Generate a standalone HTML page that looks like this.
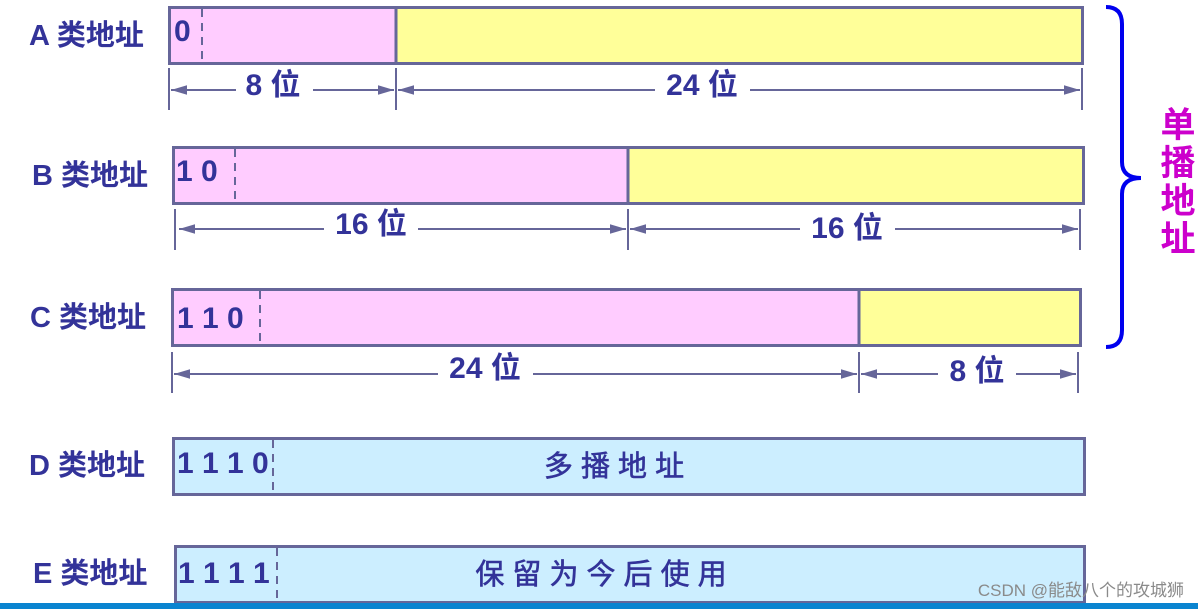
<!DOCTYPE html>
<html><head><meta charset="utf-8"><style>html,body{margin:0;padding:0;background:#fff}svg{display:block}</style></head>
<body>
<svg width="1198" height="609" viewBox="0 0 1198 609" xmlns="http://www.w3.org/2000/svg" font-family="Liberation Sans, Noto Sans CJK SC, sans-serif" font-weight="bold">
<defs>
<marker id="ar" viewBox="0 0 10 10" refX="10" refY="5" markerWidth="10" markerHeight="8" orient="auto-start-reverse"><path d="M0,2 L10,5 L0,8 z" fill="#666699"/></marker>
</defs>
<g fill="#333399" font-size="29">
<text x="29" y="45">A 类地址</text>
<text x="32" y="185">B 类地址</text>
<text x="30" y="327">C 类地址</text>
<text x="29" y="475">D 类地址</text>
<text x="33" y="583">E 类地址</text>
</g>
<g stroke="#666699" stroke-width="3">
<rect x="169.5" y="7.5" width="913" height="56" fill="#ffff99"/>
<rect x="171" y="9" width="225" height="53" fill="#ffccff" stroke="none"/>
<line x1="396" y1="7" x2="396" y2="63"/>
<rect x="173.5" y="147.5" width="910" height="56" fill="#ffff99"/>
<rect x="175" y="149" width="453" height="53" fill="#ffccff" stroke="none"/>
<line x1="628" y1="147" x2="628" y2="204"/>
<rect x="172.5" y="289.5" width="908" height="56" fill="#ffff99"/>
<rect x="174" y="291" width="685" height="53" fill="#ffccff" stroke="none"/>
<line x1="859" y1="289" x2="859" y2="346"/>
<rect x="173.5" y="438.5" width="911" height="56" fill="#cceeff"/>
<rect x="175.5" y="546.5" width="909" height="56" fill="#cceeff"/>
</g>
<g stroke="#666699" stroke-width="2" stroke-dasharray="8,6">
<line x1="202" y1="9" x2="202" y2="62"/>
<line x1="235" y1="149" x2="235" y2="202"/>
<line x1="260" y1="291" x2="260" y2="344"/>
<line x1="273" y1="440" x2="273" y2="493"/>
<line x1="277" y1="548" x2="277" y2="601"/>
</g>
<g stroke="#666699" stroke-width="2" fill="none">
<line x1="169" y1="68" x2="169" y2="110"/><line x1="396" y1="68" x2="396" y2="110"/><line x1="1082" y1="68" x2="1082" y2="110"/>
<line x1="171" y1="90" x2="236" y2="90" marker-start="url(#ar)"/><line x1="313" y1="90" x2="394" y2="90" marker-end="url(#ar)"/>
<line x1="398" y1="90" x2="655" y2="90" marker-start="url(#ar)"/><line x1="750" y1="90" x2="1080" y2="90" marker-end="url(#ar)"/>
<line x1="175" y1="209" x2="175" y2="250"/><line x1="628" y1="209" x2="628" y2="250"/><line x1="1080" y1="209" x2="1080" y2="250"/>
<line x1="179" y1="229" x2="324" y2="229" marker-start="url(#ar)"/><line x1="418" y1="229" x2="626" y2="229" marker-end="url(#ar)"/>
<line x1="630" y1="229" x2="800" y2="229" marker-start="url(#ar)"/><line x1="895" y1="229" x2="1078" y2="229" marker-end="url(#ar)"/>
<line x1="172" y1="352" x2="172" y2="393"/><line x1="859" y1="352" x2="859" y2="393"/><line x1="1078" y1="352" x2="1078" y2="393"/>
<line x1="174" y1="374" x2="438" y2="374" marker-start="url(#ar)"/><line x1="533" y1="374" x2="857" y2="374" marker-end="url(#ar)"/>
<line x1="861" y1="374" x2="938" y2="374" marker-start="url(#ar)"/><line x1="1016" y1="374" x2="1076" y2="374" marker-end="url(#ar)"/>
</g>
<g fill="#333399" font-size="30">
<text x="273" y="95" text-anchor="middle">8 位</text>
<text x="702" y="95" text-anchor="middle">24 位</text>
<text x="371" y="234" text-anchor="middle">16 位</text>
<text x="847" y="238" text-anchor="middle">16 位</text>
<text x="485" y="378" text-anchor="middle">24 位</text>
<text x="977" y="381" text-anchor="middle">8 位</text>
<text x="174" y="41">0</text>
<text x="176" y="181">1 0</text>
<text x="177" y="328">1 1 0</text>
<text x="177" y="473">1 1 1 0</text>
<text x="178" y="583">1 1 1 1</text>
<text x="614" y="476" text-anchor="middle" font-size="29" font-weight="normal" stroke="#333399" stroke-width="0.6">多 播 地 址</text>
<text x="601" y="584" text-anchor="middle" font-size="29" font-weight="normal" stroke="#333399" stroke-width="0.6">保 留 为 今 后 使 用</text>
</g>
<path d="M1106,7 Q1122,7 1122,24 L1122,162 Q1122,178 1141,178 Q1122,178 1122,194 L1122,330 Q1122,347 1106,347" fill="none" stroke="#0000ee" stroke-width="4"/>
<g fill="#cc00cc" font-size="35" text-anchor="middle">
<text x="1178" y="137">单</text><text x="1178" y="175">播</text><text x="1178" y="213">地</text><text x="1178" y="251">址</text>
</g>
<rect x="0" y="603" width="1198" height="6" fill="#0a84d0"/>
<text x="1184" y="596" text-anchor="end" font-size="17" font-weight="normal" fill="#8a8a8a">CSDN @能敌八个的攻城狮</text>
</svg>
</body></html>
